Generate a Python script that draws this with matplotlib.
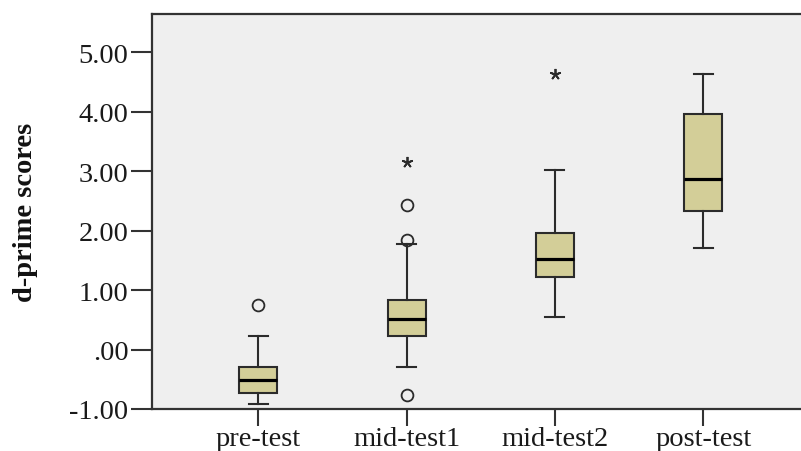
import matplotlib
matplotlib.use("Agg")
import matplotlib.pyplot as plt

# Summary statistics of d-prime scores per test session
categories = ["pre-test", "mid-test1", "mid-test2", "post-test"]
whisker_low = [-0.92, -0.30, 0.55, 1.71]
quartile1 = [-0.73, 0.22, 1.22, 2.33]
medians = [-0.52, 0.51, 1.52, 2.87]
quartile3 = [-0.29, 0.84, 1.96, 3.97]
whisker_high = [0.22, 1.78, 3.02, 4.63]
outliers = [[0.75], [-0.77, 1.84, 2.43], [], []]
extremes = [[], [3.16], [4.63], []]
y_ticks = [-1, 0, 1, 2, 3, 4, 5]
y_tick_labels = ["-1.00", ".00", "1.00", "2.00", "3.00", "4.00", "5.00"]

box_fill = "#D3CE98"
edge = "#2b2b2b"

fig = plt.figure(figsize=(8.01, 4.52), dpi=100)
ax = fig.add_axes([152 / 801, 42 / 452, 1 - 152 / 801, 395 / 452])
ax.set_facecolor("#EFEFEF")

stats = []
for i, name in enumerate(categories):
    stats.append(dict(label=name, whislo=whisker_low[i], q1=quartile1[i],
                      med=medians[i], q3=quartile3[i], whishi=whisker_high[i],
                      fliers=outliers[i]))

positions = list(range(1, len(categories) + 1))
ax.bxp(stats, positions=positions, widths=0.256, patch_artist=True,
       showfliers=True,
       boxprops=dict(facecolor=box_fill, edgecolor=edge, linewidth=1.5),
       medianprops=dict(color="black", linewidth=2.3),
       whiskerprops=dict(color=edge, linewidth=1.5),
       capprops=dict(color=edge, linewidth=1.5),
       capwidths=0.128,
       flierprops=dict(marker="o", markersize=8.5, markerfacecolor="none",
                       markeredgecolor=edge, markeredgewidth=1.3))

for pos, vals in zip(positions, extremes):
    if vals:
        ax.plot([pos] * len(vals), vals, linestyle="none", marker=(5, 2, 0),
                markersize=8, color=edge, markeredgewidth=1.3)

ax.set_xlim(0.283, 4.659)
ax.set_ylim(-1.0, 5.645)
ax.set_yticks(y_ticks)
ax.set_yticklabels(y_tick_labels)
ax.set_xticks(positions)
ax.set_xticklabels(categories)

serif = ["Liberation Serif", "DejaVu Serif"]
for lab in ax.get_yticklabels() + ax.get_xticklabels():
    lab.set_family(serif)
    lab.set_fontsize(20.5)
    lab.set_color("#1a1a1a")

ax.tick_params(axis="y", length=15, width=1.5, color="#333333", pad=2)
ax.tick_params(axis="x", length=12, width=1.5, color="#333333", pad=0.5)

ax.set_ylabel("d-prime scores", family=serif, fontweight="bold",
              fontsize=20.5, color="#111111")
ax.yaxis.set_label_coords(-0.1757, 0.5)

for side in ("left", "bottom", "top"):
    ax.spines[side].set_color("#333333")
    ax.spines[side].set_linewidth(1.6)
ax.spines["right"].set_visible(False)

fig.savefig("out.png", dpi=100)
